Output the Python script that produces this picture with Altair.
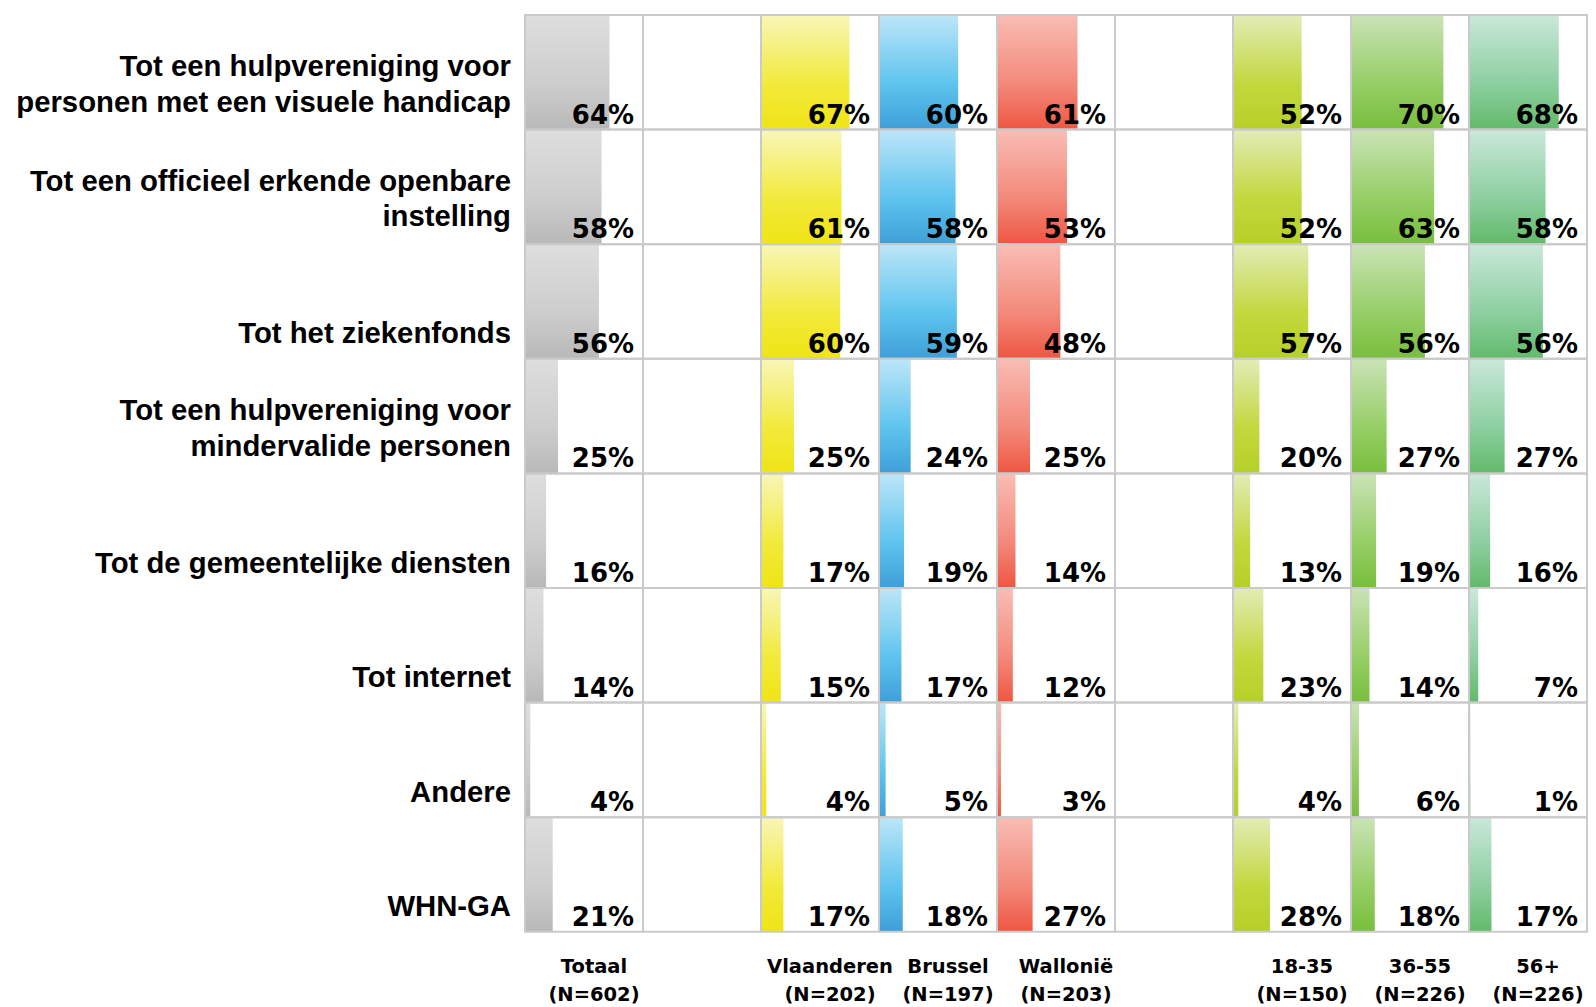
import altair as alt
import pandas as pd

# ---------------- data ----------------
rows = [
    "Tot een hulpvereniging voor\npersonen met een visuele handicap",
    "Tot een officieel erkende openbare\ninstelling",
    "Tot het ziekenfonds",
    "Tot een hulpvereniging voor\nmindervalide personen",
    "Tot de gemeentelijke diensten",
    "Tot internet",
    "Andere",
    "WHN-GA",
]
columns = ["Totaal", "", "Vlaanderen", "Brussel", "Wallonië", "", "18-35", "36-55", "56+"]
column_n = ["(N=602)", "", "(N=202)", "(N=197)", "(N=203)", "", "(N=150)", "(N=226)", "(N=226)"]

totaal = [64, 58, 56, 25, 16, 14, 4, 21]
vlaanderen = [67, 61, 60, 25, 17, 15, 4, 17]
brussel = [60, 58, 59, 24, 19, 17, 5, 18]
wallonie = [61, 53, 48, 25, 14, 12, 3, 27]
age_18_35 = [52, 52, 57, 20, 13, 23, 4, 28]
age_36_55 = [70, 63, 56, 27, 19, 14, 6, 18]
age_56 = [68, 58, 56, 27, 16, 7, 1, 17]

series = {
    "Totaal": totaal,
    "Vlaanderen": vlaanderen,
    "Brussel": brussel,
    "Wallonië": wallonie,
    "18-35": age_18_35,
    "36-55": age_36_55,
    "56+": age_56,
}

# gradient colours (top -> bottom) per column
gradients = {
    "Totaal": ["#dedede", "#cdcdcd", "#b8b8b8"],
    "Vlaanderen": ["#f8f6b8", "#f2ea3c", "#efe414"],
    "Brussel": ["#bde6f8", "#5ec4ee", "#3e9fd8"],
    "Wallonië": ["#f9bdb5", "#f3897a", "#ee5642"],
    "18-35": ["#e3ecb6", "#c2d83e", "#b6d028"],
    "36-55": ["#cae3b6", "#96ce66", "#78be3c"],
    "56+": ["#cae8da", "#8ccfa0", "#62ba6a"],
}

# ---------------- layout ----------------
COL_PX = 118.0
PX_PER_PCT = 1.32
ROW_PX = 114.6
COLW = COL_PX / PX_PER_PCT
W = COL_PX * len(columns)
H = ROW_PX * len(rows)
FONT = "Liberation Sans, Arial, sans-serif"
FONT_WIDE = "DejaVu Sans, Verdana, sans-serif"

long_records = []
for ci, c in enumerate(columns):
    if c in series:
        for ri, r in enumerate(rows):
            long_records.append({"row": r, "col": c, "ci": ci, "value": series[c][ri]})
long_df = pd.DataFrame(long_records)

cell_df = pd.DataFrame([{"row": r, "ci": ci} for ci in range(len(columns)) for r in rows])
rowlab_df = pd.DataFrame({"row": rows})
collab_df = pd.DataFrame(
    [{"ci": ci, "lab": f"{c}\n{n}"} for ci, (c, n) in enumerate(zip(columns, column_n)) if c]
)

x_scale = alt.Scale(domain=[0, len(columns) * COLW], nice=False, zero=False)
y_scale = alt.Scale(domain=rows, paddingInner=0, paddingOuter=0)
Y = alt.Y("row:N", scale=y_scale, axis=None, sort=rows)
Y_end = alt.Y("row:N", scale=y_scale, axis=None, sort=rows, bandPosition=1)

base = alt.Chart(long_df).transform_calculate(
    x0=f"datum.ci * {COLW}",
    x1=f"datum.ci * {COLW} + datum.value",
    xr=f"(datum.ci + 1) * {COLW}",
    label="datum.value + '%'",
)

layers = []
for c, cols in gradients.items():
    grad = {
        "gradient": "linear",
        "x1": 0, "x2": 0, "y1": 0, "y2": 1,
        "stops": [
            {"offset": 0, "color": cols[0]},
            {"offset": 0.6, "color": cols[1]},
            {"offset": 1, "color": cols[2]},
        ],
    }
    layers.append(
        base.transform_filter(alt.datum.col == c)
        .mark_rect(fill=grad)
        .encode(
            x=alt.X("x0:Q", scale=x_scale, axis=None),
            x2="x1:Q",
            y=Y,
        )
    )

borders = (
    alt.Chart(cell_df)
    .transform_calculate(cx0=f"datum.ci * {COLW}", cx1=f"(datum.ci + 1) * {COLW}")
    .mark_rect(fillOpacity=0, stroke="#cacaca", strokeWidth=2)
    .encode(x=alt.X("cx0:Q", scale=x_scale, axis=None), x2="cx1:Q", y=Y)
)

values = base.mark_text(
    align="right", baseline="alphabetic", dx=-9, dy=-6,
    fontSize=26, fontWeight="bold", font=FONT_WIDE, color="#000000",
).encode(x=alt.X("xr:Q", scale=x_scale, axis=None), y=Y_end, text="label:N")

label_style = dict(
    align="right", baseline="alphabetic", lineBreak="\n", lineHeight=35.6,
    fontSize=29.3, fontWeight="bold", font=FONT, color="#000000",
)

row_labels_single = (
    alt.Chart(rowlab_df)
    .transform_filter("indexof(datum.row, '\\n') < 0")
    .mark_text(dy=42, **label_style)
    .encode(x=alt.value(-14), y=Y, text="row:N")
)

row_labels_double = (
    alt.Chart(rowlab_df)
    .transform_filter("indexof(datum.row, '\\n') >= 0")
    .mark_text(dy=4, **label_style)
    .encode(x=alt.value(-14), y=Y, text="row:N")
)

col_labels = (
    alt.Chart(collab_df)
    .transform_calculate(cc=f"(datum.ci + 0.5) * {COLW}")
    .mark_text(
        align="center", baseline="alphabetic", dx=10, dy=41, lineBreak="\n", lineHeight=28,
        fontSize=19.5, fontWeight="bold", font=FONT_WIDE, color="#000000",
    )
    .encode(x=alt.X("cc:Q", scale=x_scale, axis=None), y=alt.value(H), text="lab:N")
)

chart = (
    alt.layer(*layers, borders, values, row_labels_single, row_labels_double, col_labels)
    .properties(
        width=W,
        height=H,
        autosize=alt.AutoSizeParams(type="none"),
        padding={"left": 517, "top": 7, "right": 1, "bottom": 76},
        background="#ffffff",
    )
    .configure_view(stroke=None)
)

chart.save("out.html", embed_options={"renderer": "svg", "actions": False})
